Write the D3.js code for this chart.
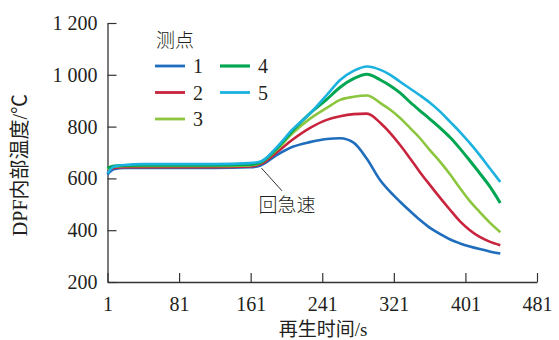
<!DOCTYPE html>
<html>
<head>
<meta charset="utf-8">
<script src="https://cdn.jsdelivr.net/npm/d3@7"></script>
<style>
  body { margin: 0; background: #fff; }
  text { font-family: "Liberation Serif", "Noto Sans CJK SC", serif; fill: #231f20; }
</style>
</head>
<body>
<script>
// regeneration time, s
var times = [1, 8, 20, 40, 80, 120, 160, 172, 190, 208, 227, 246, 261, 276, 291, 306, 317, 328, 339, 350, 361, 373, 384, 395, 406, 417, 428, 440];

// temperature at each measuring point, deg C
var point1 = [615, 635, 640, 640, 640, 640, 643, 650, 690, 722, 740, 752, 755, 738, 675, 592, 548, 510, 474, 440, 410, 385, 364, 349, 337, 327, 318, 310];
var point2 = [625, 640, 643, 643, 643, 643, 646, 655, 700, 750, 794, 826, 840, 848, 850, 814, 775, 729, 678, 625, 576, 524, 478, 434, 400, 374, 356, 342];
var point3 = [635, 645, 648, 648, 648, 648, 650, 660, 710, 775, 830, 872, 903, 915, 920, 891, 865, 833, 795, 756, 710, 663, 615, 562, 512, 470, 430, 392];
var point4 = [640, 648, 650, 651, 651, 651, 654, 662, 715, 785, 850, 905, 952, 985, 1002, 980, 958, 930, 895, 862, 830, 794, 758, 715, 668, 620, 570, 505];
var point5 = [620, 645, 652, 655, 655, 655, 659, 665, 720, 790, 850, 922, 980, 1015, 1032, 1019, 1000, 973, 947, 921, 893, 857, 818, 779, 736, 690, 640, 586];

var seriesNames = ["1", "2", "3", "4", "5"];
var seriesValues = [point1, point2, point3, point4, point5];
var colors = ["#1f6dbd", "#c8243d", "#8cc63f", "#00a651", "#1cb2e0"];

var xTicks = [1, 81, 161, 241, 321, 401, 481];
var yTicks = [200, 400, 600, 800, 1000, 1200];

var W = 559, H = 340;
var margin = {top: 23, right: 22, bottom: 58, left: 107.5};

var svg = d3.select("body").append("svg")
    .attr("width", W)
    .attr("height", H);

var x = d3.scaleLinear().domain([1, 481]).range([margin.left, W - margin.right]);
var y = d3.scaleLinear().domain([200, 1200]).range([H - margin.bottom, margin.top]);

// axes, ticks point inward
var xAxis = svg.append("g")
    .attr("transform", "translate(0," + (H - margin.bottom) + ")")
    .call(d3.axisBottom(x).tickValues(xTicks).tickSizeInner(-9).tickSizeOuter(0).tickPadding(10));

var yAxis = svg.append("g")
    .attr("transform", "translate(" + margin.left + ",0)")
    .call(d3.axisLeft(y).tickValues(yTicks).tickSizeInner(-9).tickSizeOuter(0).tickPadding(10)
      .tickFormat(d => d >= 1000 ? Math.floor(d / 1000) + " " + String(d % 1000).padStart(3, "0") : d));

[xAxis, yAxis].forEach(function(a) {
  a.select(".domain").attr("stroke", "#333").attr("stroke-width", 1.3);
  a.selectAll(".tick line").attr("stroke", "#333").attr("stroke-width", 1.2);
  a.selectAll(".tick text").attr("font-size", 20).attr("fill", "#231f20")
    .style("font-family", "'Liberation Serif', serif");
});
xAxis.selectAll(".tick text").attr("dy", "0.95em");

// lines
var line = d3.line()
    .x((d, i) => x(times[i]))
    .y(d => y(d))
    .curve(d3.curveMonotoneX);

svg.selectAll(".series")
    .data(seriesValues)
  .enter().append("path")
    .attr("class", "series")
    .attr("d", line)
    .attr("fill", "none")
    .attr("stroke", (d, i) => colors[i])
    .attr("stroke-width", (d, i) => i === 3 ? 3 : 2.6)
    .attr("stroke-linejoin", "round");

// annotation
svg.append("line")
    .attr("x1", x(173)).attr("y1", y(640))
    .attr("x2", x(196)).attr("y2", y(552))
    .attr("stroke", "#333").attr("stroke-width", 1);

svg.append("text")
    .attr("x", 287).attr("y", 212)
    .attr("text-anchor", "middle")
    .attr("font-size", 19)
    .style("font-family", "'Noto Sans CJK SC', sans-serif")
    .style("font-weight", 300)
    .text("回急速");

// legend
var legend = svg.append("g");
legend.append("text")
    .attr("x", 156).attr("y", 47)
    .attr("font-size", 19)
    .style("font-family", "'Noto Sans CJK SC', sans-serif")
    .style("font-weight", 300)
    .text("测点");

var items = legend.selectAll(".item")
    .data(seriesNames)
  .enter().append("g")
    .attr("class", "item")
    .attr("transform", (d, i) => "translate(" + (i < 3 ? 155 : 220) + "," + (66 + (i % 3) * 26.5) + ")");
items.append("line")
    .attr("x1", 0).attr("x2", 30)
    .attr("stroke", (d, i) => colors[i])
    .attr("stroke-width", (d, i) => i === 3 ? 3.2 : 2.8);
items.append("text")
    .attr("x", 38).attr("y", 7)
    .attr("font-size", 20)
    .text(d => d);

// axis titles
svg.append("text")
    .attr("x", 323).attr("y", 336)
    .attr("text-anchor", "middle")
    .attr("font-size", 19)
    .style("font-family", "'Liberation Serif', 'Noto Sans CJK SC', serif")
    .text("再生时间/s");

svg.append("text")
    .attr("transform", "translate(27,165) rotate(-90)")
    .attr("text-anchor", "middle")
    .attr("font-size", 20)
    .style("font-family", "'Liberation Serif', 'Noto Sans CJK SC', serif")
    .text("DPF内部温度/℃");
</script>
</body>
</html>
